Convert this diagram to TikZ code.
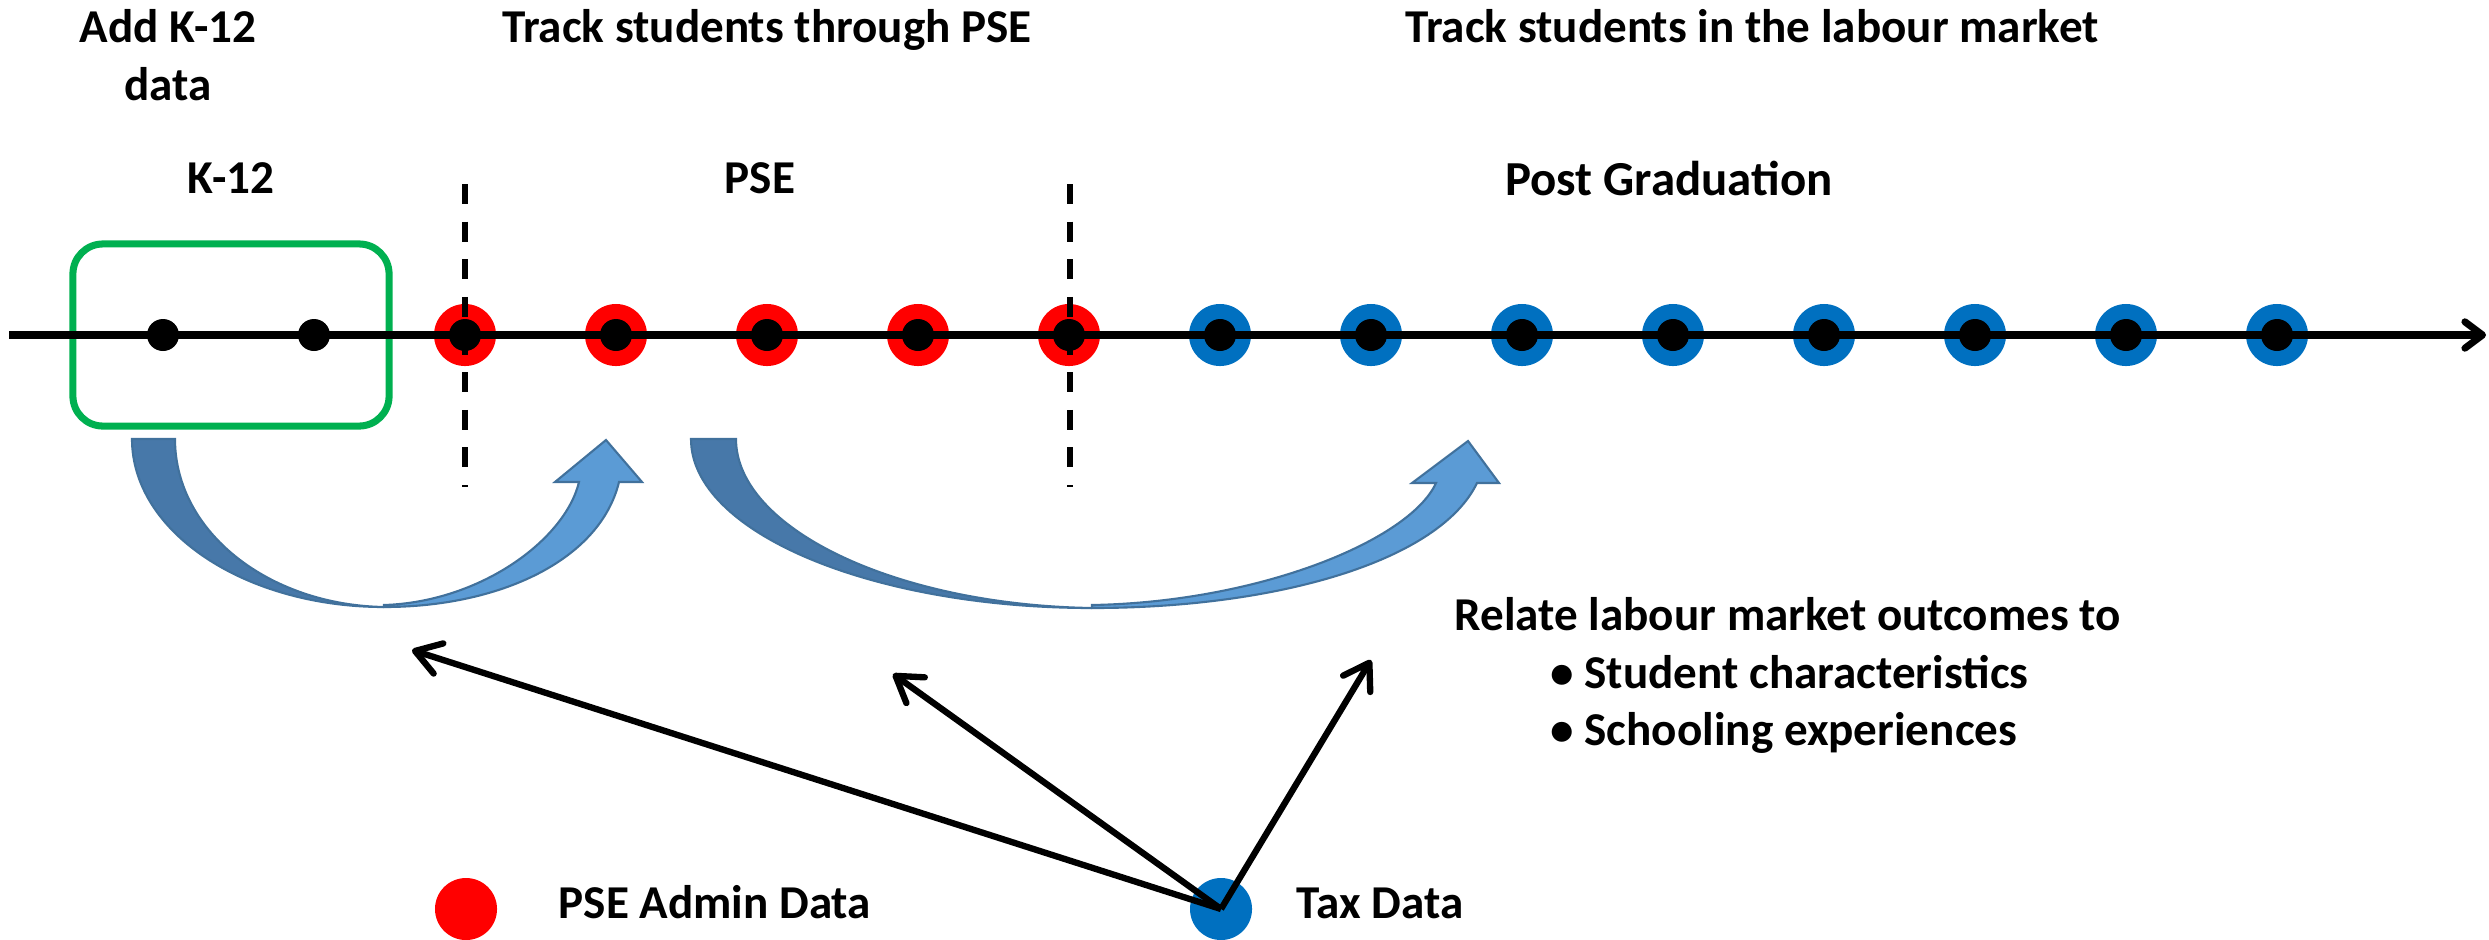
\documentclass[tikz,border=0pt]{standalone}
\usepackage{fontspec}
\setmainfont{Carlito}
\usetikzlibrary{arrows.meta}
\definecolor{pred}{HTML}{FF0000}
\definecolor{tblue}{HTML}{0070C0}
\definecolor{kgreen}{HTML}{00B050}
\definecolor{adark}{HTML}{4778A9}
\definecolor{alight}{HTML}{5B9BD5}
\definecolor{aline}{HTML}{41719C}
\begin{document}
\begin{tikzpicture}[x=0.01cm,y=-0.01cm,
  lbl/.style={font=\fontsize{13.4}{16.5}\selectfont\bfseries, inner sep=0pt},
  ring/.style={circle, minimum size=0.62cm, inner sep=0pt, draw=none},
  redring/.style={ring, fill=pred},
  bluering/.style={ring, fill=tblue},
  blackdot/.style={circle, minimum size=0.32cm, inner sep=0pt, fill=black},
  kbox/.style={draw=kgreen, line width=2pt, rounded corners=0.3cm, minimum width=3.16cm, minimum height=1.82cm, inner sep=0pt},
  axisline/.style={line width=2pt, -{Straight Barb[length=5pt,width=7.5pt,round]}},
  dashline/.style={line width=1.6pt, dash pattern=on 5.7pt off 5pt},
  bigarrow/.style={draw=aline, line width=0.6pt, line join=miter},
  blackarrow/.style={line width=1.8pt, -{Straight Barb[length=7pt,width=9pt,round]}}
]
\useasboundingbox (0,0) rectangle (2489,939);

% titles
\node[lbl, anchor=base] (tadd) at (168,42) {Add K-12};
\node[lbl, anchor=base] (tdata) at (168,100) {data};
\node[lbl, anchor=base] (tpse) at (767,42) {Track students through PSE};
\node[lbl, anchor=base] (tlab) at (1752,42) {Track students in the labour market};
\node[lbl, anchor=base] (hk) at (231,193) {K-12};
\node[lbl, anchor=base] (hpse) at (760,193) {PSE};
\node[lbl, anchor=base, font=\fontsize{13.9}{16.5}\selectfont\bfseries] (hpost) at (1669,195) {Post Graduation};

% green box
\node[kbox] (k12box) at (231,335) {};

% timeline rings
\foreach \i in {0,...,4} {
  \node[redring] (r\i) at ({465+151*\i},335) {};
}
\foreach \i in {5,...,12} {
  \node[bluering] (r\i) at ({465+151*\i},335) {};
}
\foreach \i in {0,...,12} {
  \node[blackdot] (c\i) at (r\i.center) {};
}
\node[blackdot] (ka) at (163,335) {};
\node[blackdot] (kb) at (314,335) {};

% axis
\coordinate (axs) at (9,335);
\coordinate (axe) at (2486,335);
\draw[axisline] (axs) -- (axe);

% dashed separators
\coordinate (d1t) at (465,184);
\coordinate (d1b) at (465,487);
\coordinate (d2t) at (1070,184);
\coordinate (d2b) at (1070,487);
\draw[dashline] (d1t) -- (d1b);
\draw[dashline] (d2t) -- (d2b);

% curved block arrow 1
\filldraw[bigarrow, fill=adark] (132,439) .. controls (132,532) and (245,607) .. (384,607)
  .. controls (269,605) and (175,532) .. (175,439) -- cycle;
\filldraw[bigarrow, fill=alight] (384,607) .. controls (500,607) and (600,560) .. (619,482)
  -- (642,482) -- (606,440) -- (555,482) -- (579,482)
  .. controls (565,540) and (480,602) .. (384,605) -- cycle;

% curved block arrow 2
\filldraw[bigarrow, fill=adark] (691,439) .. controls (691,532) and (871,608) .. (1092,608)
  .. controls (895,605) and (736,528) .. (736,439) -- cycle;
\filldraw[bigarrow, fill=alight] (1092,608) .. controls (1280,608) and (1440,560) .. (1477,483)
  -- (1499,483) -- (1468,441) -- (1412,483) -- (1436,483)
  .. controls (1410,540) and (1260,602) .. (1092,605) -- cycle;

% relate text
\node[lbl, anchor=base west] (rel) at (1454,630) {Relate labour market outcomes to};
\node[lbl, anchor=base west] (b1) at (1550,688) {•\hspace{0.22em}Student characteristics};
\node[lbl, anchor=base west] (b2) at (1550,745) {•\hspace{0.22em}Schooling experiences};

% legend
\node[redring] (legpse) at (466,909) {};
\node[lbl, anchor=base west] (legpset) at (558,918) {PSE Admin Data};
\node[bluering] (legtax) at (1221,909) {};
\node[lbl, anchor=base west] (legtaxt) at (1296,918) {Tax Data};

% black arrows
\coordinate (t1) at (412,650);
\coordinate (t2) at (893,674);
\coordinate (t3) at (1371,660);
\draw[blackarrow] (legtax.center) -- (t1);
\draw[blackarrow] (legtax.center) -- (t2);
\draw[blackarrow] (legtax.center) -- (t3);
\end{tikzpicture}
\end{document}
